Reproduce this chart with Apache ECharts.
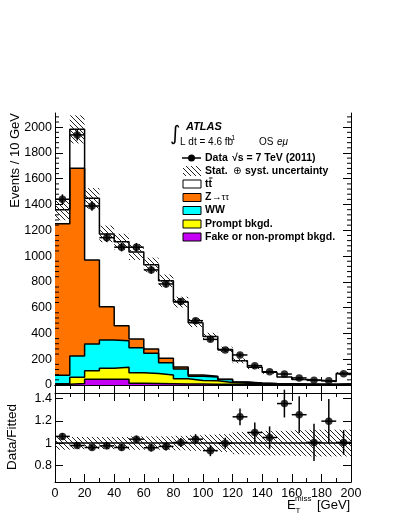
<!DOCTYPE html>
<html>
<head>
<meta charset="utf-8">
<script src="https://cdn.jsdelivr.net/npm/echarts@6/dist/echarts.min.js"></script>
<style>
  html, body { margin: 0; padding: 0; background: #fff; }
  #chart { width: 399px; height: 516px; }
</style>
</head>
<body>
<div id="chart"></div>
<script>
// E_T^miss bins, 10 GeV wide
var binCenters = [5, 15, 25, 35, 45, 55, 65, 75, 85, 95, 105, 115, 125, 135, 145, 155, 165, 175, 185, 195];
var binHalf = 5;

// stacked MC components (events / 10 GeV), bottom to top
var fakeBkg   = [5, 12, 44, 44, 44, 13, 12, 10, 8, 8, 6, 5, 4, 3, 3, 2, 2, 2, 1, 2];
var promptBkg = [5, 48, 67, 85, 93, 82, 78, 68, 40, 27, 27, 15, 10, 7, 5, 4, 3, 2, 2, 3];
var wwBkg     = [65, 165, 207, 220, 206, 194, 156, 95, 77, 33, 29, 22, 8, 4, 2, 2, 1, 1, 1, 2];
var zttBkg    = [1175, 1457, 652, 258, 117, 68, 34, 34, 15, 9, 6, 3, 2, 1, 1, 1, 1, 1, 1, 1];
var ttbar     = [110, 301, 478, 565, 652, 675, 652, 601, 503, 406, 309, 230, 164, 122, 87, 53, 36, 31, 23, 82];

// relative stat+syst uncertainty of the prediction
var relUnc = [0.06, 0.055, 0.055, 0.055, 0.055, 0.06, 0.06, 0.06, 0.065, 0.07, 0.075, 0.08, 0.1, 0.105, 0.11, 0.11, 0.115, 0.12, 0.12, 0.12];

// data
var dataVals = [1441, 1940, 1389, 1143, 1069, 1069, 893, 784, 647, 499, 354, 272, 233, 150, 103, 85, 55, 36, 32, 88];
var dataErr  = [38, 44, 37, 34, 33, 33, 30, 28, 25, 22, 19, 16, 15, 12, 10, 9, 7, 6, 6, 9];

// data / fitted
var ratioVals = [1.06, 0.978, 0.96, 0.975, 0.96, 1.035, 0.958, 0.97, 1.005, 1.035, 0.932, 0.998, 1.236, 1.095, 1.05, 1.355, 1.255, 1.006, 1.197, 1.006];
var ratioErr  = [0.03, 0.022, 0.025, 0.03, 0.03, 0.032, 0.034, 0.036, 0.04, 0.045, 0.05, 0.05, 0.075, 0.09, 0.1, 0.125, 0.165, 0.167, 0.2, 0.11];

var mainYTicks = [0, 200, 400, 600, 800, 1000, 1200, 1400, 1600, 1800, 2000];
var ratioYTicks = [0.8, 1, 1.2, 1.4];

var FONT = 'Liberation Sans, Arial, Helvetica, sans-serif';
var colors = ['#c400f5', '#ffff00', '#00ffff', '#ff7400', '#ffffff'];

// cumulative tops of the stack
var layers = [fakeBkg, promptBkg, wwBkg, zttBkg, ttbar];
var tops = [];
var run = binCenters.map(function () { return 0; });
layers.forEach(function (l) {
  run = run.map(function (v, i) { return v + l[i]; });
  tops.push(run.slice());
});
var total = tops[tops.length - 1];

function stepData(vals) {
  var pts = vals.map(function (v, i) { return [binCenters[i] - binHalf, v]; });
  pts.push([binCenters[binCenters.length - 1] + binHalf, vals[vals.length - 1]]);
  return pts;
}

function makeHatch(size) {
  var c = document.createElement('canvas');
  c.width = size; c.height = size;
  var g = c.getContext('2d');
  g.strokeStyle = '#222';
  g.lineWidth = 1;
  g.beginPath();
  g.moveTo(0, 0); g.lineTo(size, size);
  g.moveTo(-size, 0); g.lineTo(size, 2 * size);
  g.moveTo(0, -size); g.lineTo(2 * size, size);
  g.stroke();
  return c;
}
var hatch = { image: makeHatch(5), repeat: 'repeat' };

function bandRender(params, api) {
  var p1 = api.coord([api.value(0), api.value(3)]);
  var p2 = api.coord([api.value(1), api.value(2)]);
  return {
    type: 'rect',
    shape: { x: p1[0], y: p1[1], width: p2[0] - p1[0], height: p2[1] - p1[1] },
    style: { fill: hatch }
  };
}

function errRender(params, api) {
  var x = api.value(0), y = api.value(1), e = api.value(2);
  var l = api.coord([x - binHalf, y]), r = api.coord([x + binHalf, y]);
  var t = api.coord([x, y + e]), b = api.coord([x, y - e]);
  var st = { stroke: '#000', lineWidth: 1.5 };
  return {
    type: 'group',
    children: [
      { type: 'line', shape: { x1: l[0], y1: l[1], x2: r[0], y2: r[1] }, style: st },
      { type: 'line', shape: { x1: t[0], y1: t[1], x2: b[0], y2: b[1] }, style: st }
    ]
  };
}

var series = [];
// draw from the top of the stack downwards, so lower layers cover upper fills
for (var k = tops.length - 1; k >= 0; k--) {
  series.push({
    type: 'line', xAxisIndex: 0, yAxisIndex: 0, step: 'end', symbol: 'none',
    data: stepData(tops[k]),
    lineStyle: { color: '#000', width: 1.5 },
    areaStyle: { color: colors[k], opacity: 1 },
    z: 2
  });
}
series.push({
  type: 'custom', xAxisIndex: 0, yAxisIndex: 0, renderItem: bandRender, z: 3,
  encode: { x: [0, 1], y: [2, 3] },
  data: binCenters.map(function (c, i) {
    return [c - binHalf, c + binHalf, total[i] * (1 - relUnc[i]), total[i] * (1 + relUnc[i])];
  })
});
series.push({
  type: 'custom', xAxisIndex: 0, yAxisIndex: 0, renderItem: errRender, z: 4,
  encode: { x: 0, y: 1 },
  data: binCenters.map(function (c, i) { return [c, dataVals[i], dataErr[i]]; })
});
series.push({
  type: 'scatter', xAxisIndex: 0, yAxisIndex: 0, symbol: 'circle', symbolSize: 7.5,
  itemStyle: { color: '#000' }, z: 5,
  data: binCenters.map(function (c, i) { return [c, dataVals[i]]; })
});

// ratio panel
series.push({
  type: 'custom', xAxisIndex: 2, yAxisIndex: 2, renderItem: bandRender, z: 3,
  encode: { x: [0, 1], y: [2, 3] },
  data: binCenters.map(function (c, i) {
    return [c - binHalf, c + binHalf, 1 - relUnc[i], 1 + relUnc[i]];
  })
});
series.push({
  type: 'line', xAxisIndex: 2, yAxisIndex: 2, symbol: 'none', z: 4,
  lineStyle: { color: '#000', width: 1.5 },
  data: [[0, 1], [200, 1]]
});
series.push({
  type: 'custom', xAxisIndex: 2, yAxisIndex: 2, renderItem: errRender, z: 5,
  encode: { x: 0, y: 1 },
  data: binCenters.map(function (c, i) { return [c, ratioVals[i], ratioErr[i]]; })
});
series.push({
  type: 'scatter', xAxisIndex: 2, yAxisIndex: 2, symbol: 'circle', symbolSize: 7.5,
  itemStyle: { color: '#000' }, z: 6,
  data: binCenters.map(function (c, i) { return [c, ratioVals[i]]; })
});

function plain(v) { return String(v); }

function xAx(grid, pos, labels) {
  return {
    type: 'value', gridIndex: grid, position: pos, min: 0, max: 200, interval: 20,
    axisLine: { show: true, lineStyle: { color: '#000', width: 1 } },
    axisTick: { show: true, inside: true, length: 8, lineStyle: { color: '#000' } },
    minorTick: { show: true, splitNumber: 2, length: 4, lineStyle: { color: '#000' } },
    splitLine: { show: false },
    axisLabel: { show: labels, formatter: plain, color: '#000', fontSize: 12.5, fontFamily: FONT, margin: 5 }
  };
}
function mainY(pos, labels) {
  return {
    type: 'value', gridIndex: 0, position: pos, min: 0, max: 2110,
    axisLine: { show: true, onZero: false, lineStyle: { color: '#000', width: 1 } },
    axisTick: { show: true, inside: true, length: 8, customValues: mainYTicks, lineStyle: { color: '#000' } },
    minorTick: { show: false },
    splitLine: { show: false },
    axisLabel: { show: labels, customValues: mainYTicks, formatter: plain, color: '#000', fontSize: 12.5, fontFamily: FONT, margin: 3 }
  };
}
function ratioY(pos, labels) {
  return {
    type: 'value', gridIndex: 1, position: pos, min: 0.65, max: 1.45,
    axisLine: { show: true, onZero: false, lineStyle: { color: '#000', width: 1 } },
    axisTick: { show: true, inside: true, length: 8, customValues: ratioYTicks, lineStyle: { color: '#000' } },
    splitLine: { show: false },
    axisLabel: { show: labels, customValues: ratioYTicks, formatter: plain, color: '#000', fontSize: 12.5, fontFamily: FONT, margin: 3 }
  };
}

// minor ticks of main y axis (every 40), as a thin custom layer
var mainMinor = [];
for (var m = 40; m < 2110; m += 40) { if (m % 200 !== 0) mainMinor.push(m); }
series.push({
  type: 'custom', xAxisIndex: 0, yAxisIndex: 0, z: 7, silent: true,
  data: mainMinor.map(function (v) { return [v]; }),
  encode: { y: 0 },
  renderItem: function (params, api) {
    var v = api.value(0);
    var l = api.coord([0, v]), r = api.coord([200, v]);
    var st = { stroke: '#000', lineWidth: 1 };
    return { type: 'group', children: [
      { type: 'line', shape: { x1: l[0], y1: l[1], x2: l[0] + 4, y2: l[1] }, style: st },
      { type: 'line', shape: { x1: r[0] - 4, y1: r[1], x2: r[0], y2: r[1] }, style: st }
    ] };
  }
});

function txt(x, y, text, font, extra, align) {
  var a = align || 'left';
  var o = {
    type: 'text', x: x, y: y, z: 100,
    style: { text: text, font: font, fill: '#000', align: a, verticalAlign: 'middle',
             textAlign: a, textVerticalAlign: 'middle' }
  };
  if (extra) { for (var key in extra) o[key] = extra[key]; }
  return o;
}
var bold = 'bold 10.5px ' + FONT;
var norm = '10px ' + FONT;
var boxX = 183, boxW = 18, boxH = 8, textX = 205;
function legBox(y, color) {
  return { type: 'rect', z: 100, shape: { x: boxX, y: y - boxH / 2, width: boxW, height: boxH },
           style: { fill: color, stroke: '#000', lineWidth: 1 } };
}

var graphics = [
  txt(170, 135, '\u222B', '20px DejaVu Sans'),
  txt(186, 127, 'ATLAS', 'italic bold 11px ' + FONT),
  txt(180, 142, 'L dt = 4.6 fb', norm),
  txt(229, 138, '-1', '7px ' + FONT),
  txt(259, 142, 'OS', norm),
  txt(277, 142, 'e\u03BC', 'italic 10px ' + FONT),
  // data row
  { type: 'line', z: 100, shape: { x1: 182, y1: 158, x2: 201, y2: 158 }, style: { stroke: '#000', lineWidth: 1.5 } },
  { type: 'circle', z: 100, shape: { cx: 191.5, cy: 158, r: 3.5 }, style: { fill: '#000' } },
  txt(textX, 158, 'Data', bold),
  txt(232, 158, '\u221As = 7 TeV (2011)', bold),
  // uncertainty row
  { type: 'rect', z: 100, shape: { x: boxX, y: 166, width: boxW, height: 10 }, style: { fill: hatch } },
  txt(textX, 171, 'Stat.', bold),
  txt(233, 171, '\u2295', '10px DejaVu Sans'),
  txt(245, 171, 'syst. uncertainty', bold),
  legBox(184, colors[4]),
  txt(textX, 184, 'tt', bold),
  { type: 'line', z: 100, shape: { x1: 209, y1: 178, x2: 212.5, y2: 178 }, style: { stroke: '#000', lineWidth: 1 } },
  legBox(197.5, colors[3]),
  txt(textX, 197.5, 'Z', bold),
  txt(212, 197.5, '\u2192\u03C4\u03C4', '9.5px ' + FONT),
  legBox(210.5, colors[2]),
  txt(textX, 210.5, 'WW', bold),
  legBox(224, colors[1]),
  txt(textX, 224, 'Prompt bkgd.', bold),
  legBox(237, colors[0]),
  txt(textX, 237, 'Fake or non-prompt bkgd.', bold),
  // axis titles
  txt(15, 113, 'Events / 10 GeV', '13px ' + FONT, { rotation: Math.PI / 2 }, 'right'),
  txt(12.5, 437, 'Data/Fitted', '13.5px ' + FONT, { rotation: Math.PI / 2 }, 'center'),
  txt(287, 505, 'E', '13px ' + FONT),
  txt(295.5, 510.5, 'T', '8px ' + FONT),
  txt(295, 498.5, 'miss', '8px ' + FONT),
  txt(317, 505, '[GeV]', '13px ' + FONT)
];

var chart = echarts.init(document.getElementById('chart'), null, { renderer: 'canvas' });
chart.setOption({
  animation: false,
  backgroundColor: '#fff',
  grid: [
    { left: 55, top: 113, width: 296, height: 272 },
    { left: 55, top: 393, width: 296, height: 89 }
  ],
  xAxis: [xAx(0, 'bottom', false), xAx(0, 'top', false), xAx(1, 'bottom', true), xAx(1, 'top', false)],
  yAxis: [mainY('left', true), mainY('right', false), ratioY('left', true), ratioY('right', false)],
  series: series,
  graphic: graphics
});
</script>
</body>
</html>
